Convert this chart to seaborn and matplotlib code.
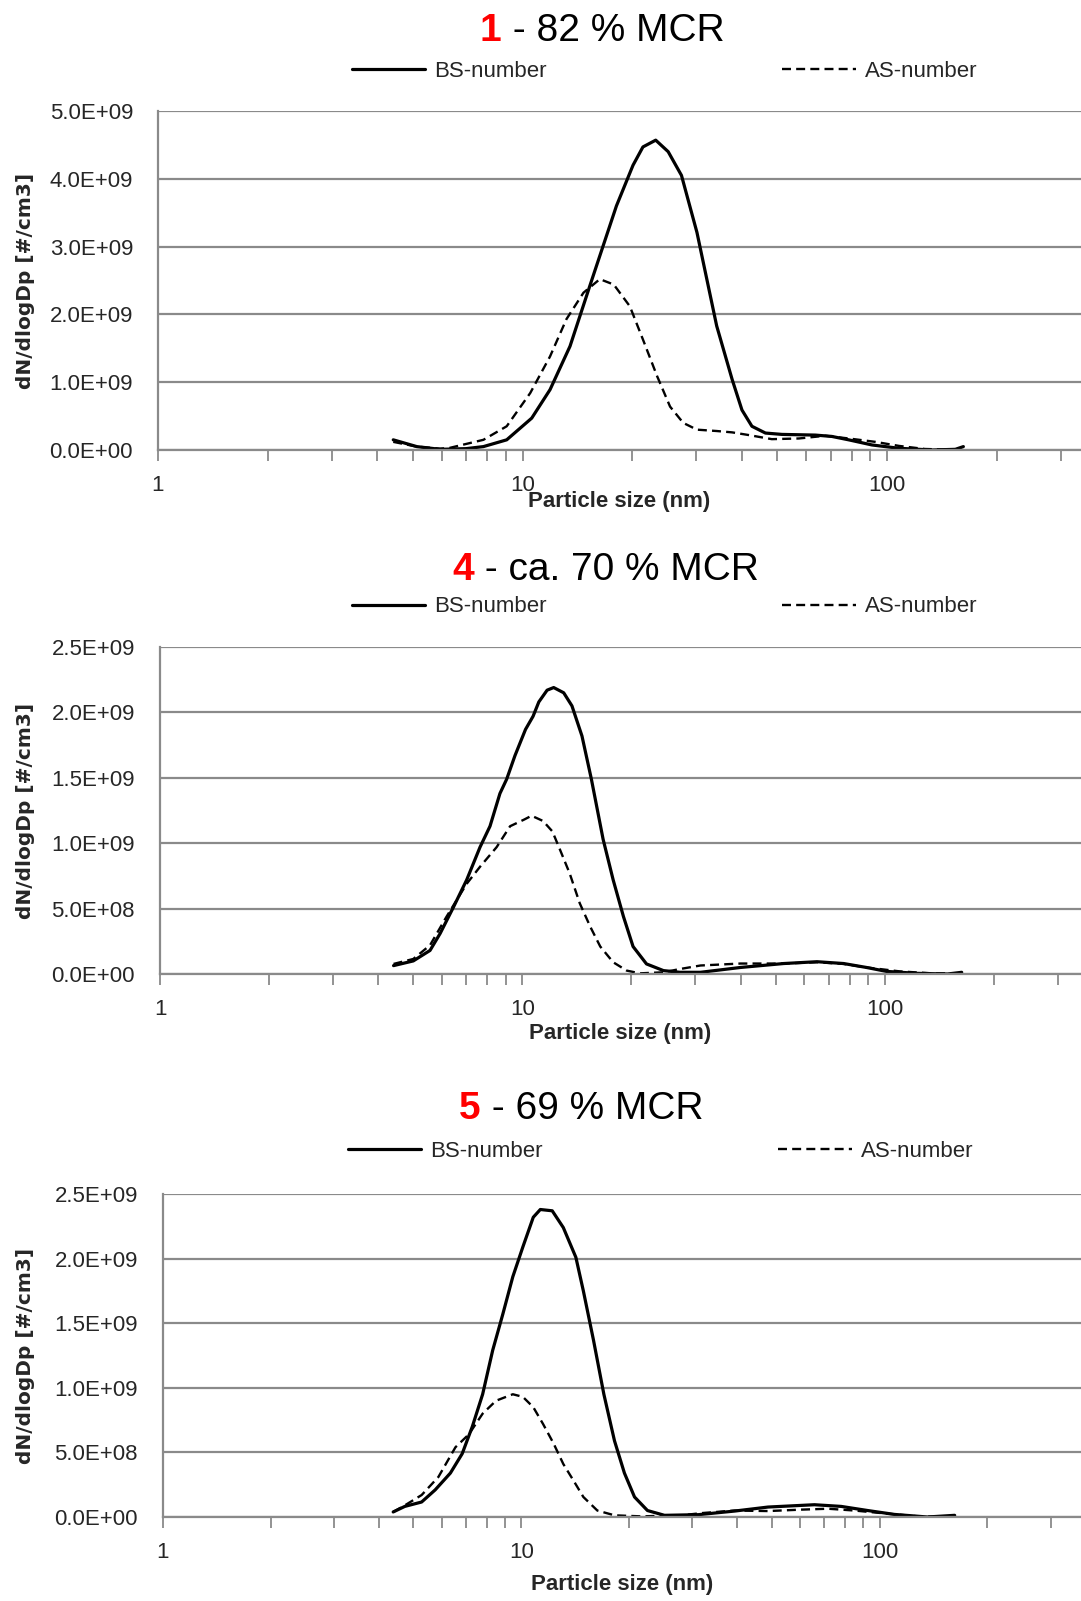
import numpy as np
import pandas as pd
import matplotlib
matplotlib.use("Agg")
import matplotlib.pyplot as plt
import seaborn as sns
from matplotlib.ticker import FixedLocator, FuncFormatter, NullFormatter

sns.set_theme(style="white")
plt.rcParams['font.family'] = ['Liberation Sans', 'DejaVu Sans']

# ---------------- data (dN/dlogDp in units of 1e9 #/cm3) ----------------
titles_num = ["1", "4", "5"]
titles_rest = [" - 82 % MCR", " - ca. 70 % MCR", " - 69 % MCR"]
series_labels = ["BS-number", "AS-number"]
ylims = [5.0, 2.5, 2.5]
ysteps = [1.0, 0.5, 0.5]

p1_bs_x = [4.42, 5.13, 5.94, 7.0, 7.81, 9.05, 10.6, 11.9, 13.5, 15.3, 17.0, 18.1, 20.1, 21.4, 23.2,
           25.1, 27.3, 30.1, 34.1, 37.6, 40.0, 42.6, 46.4, 51.5, 63.6, 70.6, 78.5, 91, 108, 133, 154, 162]
p1_bs_y = [0.15, 0.05, 0.01, 0.02, 0.05, 0.15, 0.47, 0.89, 1.53, 2.42, 3.16, 3.60, 4.20, 4.47, 4.57,
           4.40, 4.05, 3.21, 1.83, 1.04, 0.59, 0.35, 0.25, 0.23, 0.22, 0.20, 0.15, 0.074, 0.025, 0.0, 0.01, 0.05]
p1_as_x = [4.42, 5.13, 5.94, 6.3, 7.81, 9.05, 10.5, 11.9, 13.2, 14.7, 16.3, 17.8, 19.7, 21.4, 23.4,
           25.4, 27.6, 30.1, 34.1, 37.6, 41.8, 48.3, 57.3, 67.8, 78.5, 92.9, 108, 127, 162]
p1_as_y = [0.12, 0.05, 0.02, 0.03, 0.15, 0.35, 0.84, 1.38, 1.93, 2.32, 2.52, 2.44, 2.12, 1.63, 1.09,
           0.64, 0.40, 0.30, 0.28, 0.26, 0.22, 0.16, 0.17, 0.21, 0.17, 0.12, 0.06, 0.015, 0.0]

p2_bs_x = [4.41, 5.00, 5.56, 5.93, 6.45, 7.02, 7.64, 8.14, 8.67, 9.05, 9.54, 10.2, 10.7, 11.1, 11.7,
           12.2, 13.0, 13.7, 14.6, 15.5, 16.7, 17.8, 19.0, 20.2, 22.0, 24.5, 27.2, 31.0, 40.0, 52.6,
           65.0, 77.0, 89.0, 101, 123, 149, 163]
p2_bs_y = [0.064, 0.10, 0.18, 0.31, 0.51, 0.72, 0.97, 1.13, 1.38, 1.49, 1.67, 1.87, 1.97, 2.08, 2.17,
           2.19, 2.15, 2.05, 1.82, 1.49, 1.03, 0.72, 0.44, 0.21, 0.077, 0.026, 0.013, 0.013, 0.05, 0.08,
           0.094, 0.08, 0.05, 0.02, 0.005, 0.0, 0.013]
p2_as_x = [4.41, 5.00, 5.56, 6.18, 7.02, 7.64, 8.49, 9.25, 10.1, 10.6, 11.4, 12.1, 12.7, 13.5, 14.4,
           15.4, 16.4, 17.8, 19.4, 21.1, 24.5, 27.2, 31.0, 40.0, 52.6, 65.0, 77.0, 89.0, 110, 135, 162]
p2_as_y = [0.077, 0.115, 0.22, 0.44, 0.69, 0.82, 0.97, 1.13, 1.18, 1.21, 1.17, 1.09, 0.95, 0.77, 0.54,
           0.36, 0.21, 0.09, 0.026, 0.005, 0.013, 0.038, 0.065, 0.08, 0.08, 0.09, 0.077, 0.05, 0.02, 0.005, 0.005]

p3_bs_x = [4.39, 4.73, 5.27, 5.75, 6.34, 6.84, 7.30, 7.80, 8.32, 8.88, 9.47, 10.1, 10.8, 11.3, 12.2,
           13.1, 14.2, 14.9, 15.9, 17.0, 18.2, 19.4, 20.7, 22.5, 25.1, 31.2, 39.4, 48.8, 65.8, 78.1,
           92.7, 110, 136, 162]
p3_bs_y = [0.039, 0.082, 0.116, 0.21, 0.34, 0.49, 0.70, 0.95, 1.29, 1.57, 1.86, 2.09, 2.32, 2.38, 2.37,
           2.24, 2.01, 1.75, 1.37, 0.95, 0.59, 0.34, 0.155, 0.05, 0.013, 0.018, 0.046, 0.077, 0.095, 0.082,
           0.05, 0.02, 0.0, 0.013]
p3_as_x = [4.39, 4.73, 5.27, 5.87, 6.55, 7.14, 7.80, 8.50, 9.47, 10.1, 10.8, 11.5, 12.3, 13.1, 14.0,
           14.9, 16.3, 18.2, 21.6, 28.0, 31.8, 39.4, 48.8, 60.4, 71.8, 85.1, 105, 128, 162]
p3_as_y = [0.039, 0.09, 0.17, 0.31, 0.54, 0.64, 0.80, 0.90, 0.95, 0.93, 0.85, 0.72, 0.57, 0.41, 0.28,
           0.155, 0.05, 0.013, 0.005, 0.013, 0.03, 0.05, 0.046, 0.057, 0.064, 0.05, 0.026, 0.005, 0.0]

panels = [
    (p1_bs_x, p1_bs_y, p1_as_x, p1_as_y),
    (p2_bs_x, p2_bs_y, p2_as_x, p2_as_y),
    (p3_bs_x, p3_bs_y, p3_as_x, p3_as_y),
]

# ---------------- layout (pixels in the 1081 x 1601 figure) ----------------
W, H = 1081, 1601
fig = plt.figure(figsize=(W / 100, H / 100), dpi=100)

# (left, top, bottom) of the plot area, right edge at the figure edge, px per decade
boxes = [(158, 111, 450, 364.5), (160, 647, 974, 362.4), (163, 1194, 1517, 358.3)]
title_pos = [(480, 31), (452, 570), (459, 1109)]
legend_y = [71.5, 607, 1151.5]
legend_x = [352, 352, 348]
xlabel_y = [501, 1034, 1584]

grid_col = "#8a8a8a"

for i, (bx, by, ax_x, ax_y) in enumerate(panels):
    left, top, bottom, dec = boxes[i]
    ax = fig.add_axes([left / W, 1 - bottom / H, (W - left) / W, (bottom - top) / H])
    xmax = 10 ** ((W - left) / dec)

    df_bs = pd.DataFrame({"size": bx, "val": np.array(by) * 1e9})
    df_as = pd.DataFrame({"size": ax_x, "val": np.array(ax_y) * 1e9})
    sns.lineplot(data=df_bs, x="size", y="val", ax=ax, color="black", linewidth=2.3,
                 label=series_labels[0], estimator=None, sort=True)
    sns.lineplot(data=df_as, x="size", y="val", ax=ax, color="black", linewidth=1.7,
                 linestyle=(0, (3.8, 2.2)), label=series_labels[1], estimator=None, sort=True)

    ax.set_xscale("log")
    ax.set_xlim(1, xmax)
    ax.set_ylim(0, ylims[i] * 1e9)

    yt = np.arange(0, ylims[i] + 1e-9, ysteps[i]) * 1e9
    ax.set_yticks(yt)
    ax.yaxis.set_major_formatter(FuncFormatter(lambda v, p: f"{v:.1E}"))
    ax.grid(axis="y", color=grid_col, linewidth=1.6)
    ax.grid(axis="x", visible=False)
    ax.set_axisbelow(True)

    ax.xaxis.set_major_locator(FixedLocator([1, 10, 100]))
    ax.xaxis.set_major_formatter(FuncFormatter(lambda v, p: f"{v:g}"))
    minors = [m * d for d in (1, 10, 100) for m in range(2, 10)]
    ax.xaxis.set_minor_locator(FixedLocator(minors))
    ax.xaxis.set_minor_formatter(NullFormatter())
    ax.tick_params(axis="x", which="both", direction="out", length=8, width=1.3,
                   color=grid_col, bottom=True, labelsize=16, pad=10)
    ax.tick_params(axis="y", which="both", length=0, labelsize=16, pad=18)

    for s in ["top", "right"]:
        ax.spines[s].set_visible(False)
    for s in ["left", "bottom"]:
        ax.spines[s].set_color(grid_col)
        ax.spines[s].set_linewidth(1.6)

    ax.set_xlabel("Particle size (nm)", fontsize=16, fontweight="bold")
    ax.xaxis.set_label_coords(0.5, (bottom - xlabel_y[i]) / (bottom - top))
    ax.xaxis.label.set_va("center")
    ax.set_ylabel("dN/dlogDp [#/cm3]", fontsize=14.5, fontweight="bold",
                  family=["DejaVu Sans"])
    ax.yaxis.set_label_coords((35 - left) / (W - left), 0.5)

    leg = ax.legend(loc="center left", bbox_to_anchor=(legend_x[i] / W, 1 - legend_y[i] / H),
                    bbox_transform=fig.transFigure, ncol=2, frameon=False,
                    fontsize=16, handlelength=3.3, handletextpad=0.4,
                    columnspacing=10.6, borderpad=0, borderaxespad=0)

    tx, ty = title_pos[i]
    t1 = fig.text(tx / W, 1 - ty / H, titles_num[i], color="#ff0000", fontsize=28,
                  fontweight="bold", ha="left", va="center")
    ax.annotate(titles_rest[i], xy=(1, 0), xycoords=t1, fontsize=28, color="black",
                ha="left", va="bottom", annotation_clip=False)

fig.savefig("out.png", dpi=100)
